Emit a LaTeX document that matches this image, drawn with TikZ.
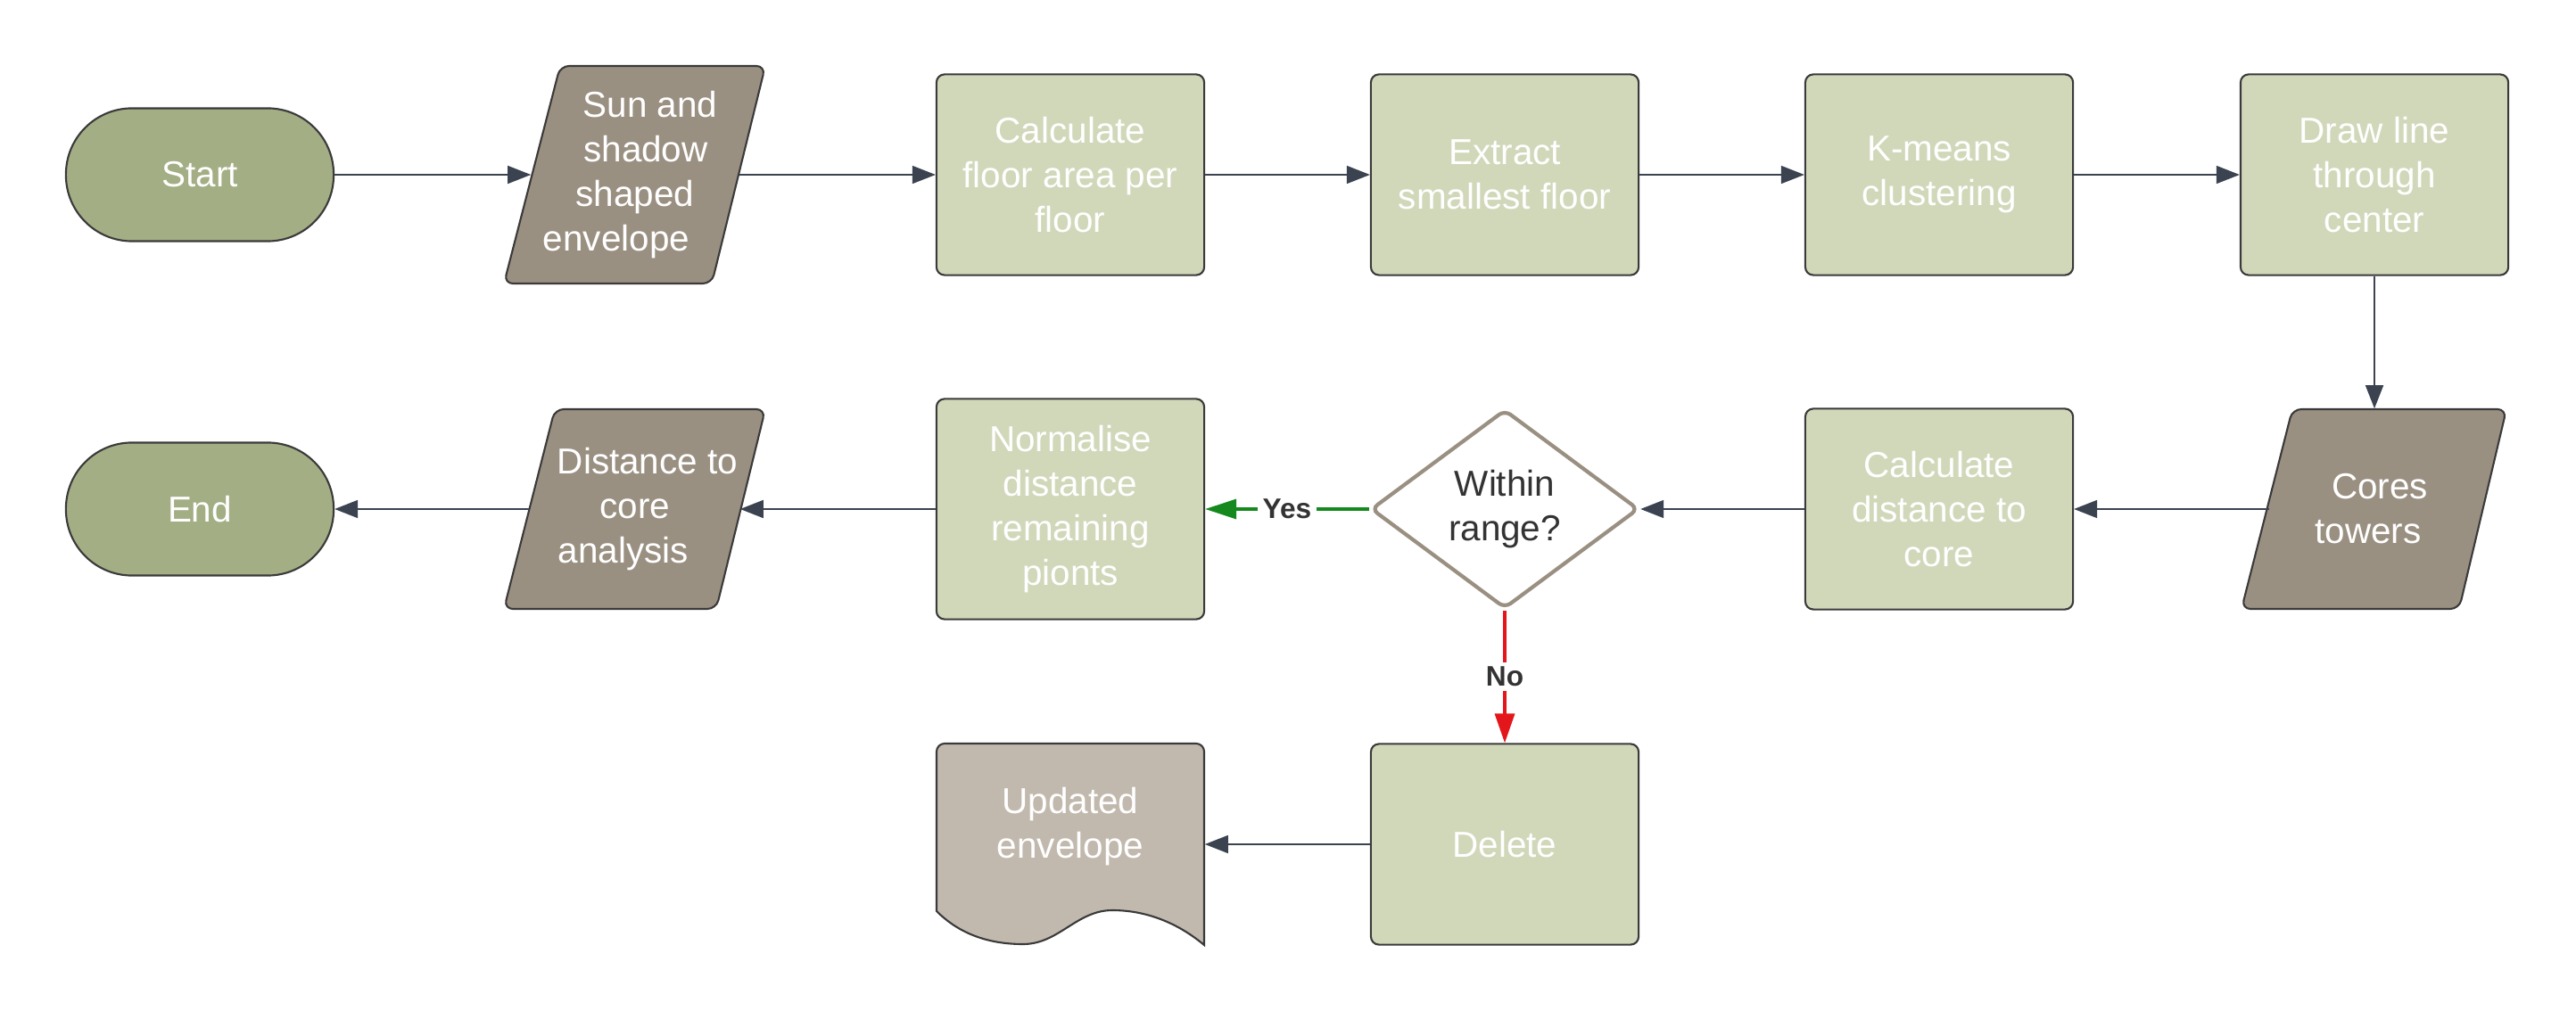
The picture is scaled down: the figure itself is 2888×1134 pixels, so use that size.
\documentclass[tikz,border=0pt]{standalone}
\usepackage{fontspec}
\setmainfont{Liberation Sans}
\usetikzlibrary{shapes, arrows.meta, positioning, calc}
\definecolor{termc}{HTML}{A3AE85}
\definecolor{procc}{HTML}{D1D8BA}
\definecolor{ioc}{HTML}{9A9082}
\definecolor{docc}{HTML}{C2B9AE}
\definecolor{edgec}{HTML}{3A3A3A}
\definecolor{arrc}{HTML}{3B4350}
\definecolor{txtc}{HTML}{333333}
\definecolor{yesc}{HTML}{16891E}
\definecolor{noc}{HTML}{E3161B}

\begin{document}
\begin{tikzpicture}[x=0.01cm, y=0.01cm,
  every node/.style={font=\fontsize{11.5}{14.2}\selectfont, text=white, align=center},
  term/.style={draw=edgec, line width=0.6pt, fill=termc, rectangle, rounded corners=0.74cm, minimum width=3cm, minimum height=1.49cm},
  proc/.style={draw=edgec, line width=0.6pt, fill=procc, rectangle, rounded corners=0.09cm, minimum width=3cm, minimum height=2.25cm},
  iosh/.style={draw=edgec, line width=0.6pt, fill=ioc, rounded corners=0.1cm},
  iotext/.style={rectangle, inner sep=0pt, minimum width=2.34cm, minimum height=2.24cm},
  dec/.style={draw=ioc, line width=1.2pt, fill=white, diamond, rounded corners=0.08cm, minimum width=3cm, minimum height=2.23cm, text=txtc, inner sep=0pt},
  flow/.style={draw=arrc, line width=0.45pt, -{Triangle[length=0.26cm, width=0.2cm]}},
  lbl/.style={font=\fontsize{9}{11}\selectfont\bfseries, text=txtc, fill=white, inner sep=1.5pt}]
  \useasboundingbox (0,0) rectangle (2888,-1134);

  % top row
  \node[term] (st) at (224,-196) {Start};
  \coordinate (sunc) at (712,-196);
  \draw[iosh] ($(sunc)+(-147,-122)$) -- ($(sunc)+(-84,122)$) -- ($(sunc)+(146,122)$) -- ($(sunc)+(86,-122)$) -- cycle;
  \node[iotext, minimum width=2.32cm, minimum height=2.45cm] (sun) at (sunc) {\hspace*{0.34cm}Sun and\\\hspace*{0.24cm}shadow\\shaped\hspace*{0.14cm}\\envelope\hspace*{0.42cm}};
  \node[proc] (area) at (1200,-196) {Calculate\\floor area per\\floor};
  \node[proc] (small) at (1687,-196) {Extract\\smallest floor};
  \node[proc] (km) at (2174,-196) {K-means\\clustering};
  \node[proc] (line) at (2662,-196) {Draw line\\through\\center};

  % middle row
  \coordinate (coresc) at (2662,-571);
  \draw[iosh] ($(coresc)+(-149,-112)$) -- ($(coresc)+(-92,112)$) -- ($(coresc)+(148,112)$) -- ($(coresc)+(95,-112)$) -- cycle;
  \node[iotext] (cores) at (coresc) {\hspace*{0.12cm}Cores\\towers\hspace*{0.14cm}};
  \node[proc] (dist) at (2174,-571) {Calculate\\distance to\\core};
  \node[dec] (rng) at (1687,-571) {Within\\range?};
  \node[proc, minimum height=2.47cm] (norm) at (1200,-571) {Normalise\\distance\\remaining\\pionts};
  \coordinate (anac) at (712,-571);
  \draw[iosh] ($(anac)+(-147,-112)$) -- ($(anac)+(-90,112)$) -- ($(anac)+(146,112)$) -- ($(anac)+(91,-112)$) -- cycle;
  \node[iotext] (ana) at (anac) {\hspace*{0.28cm}Distance to\\core\\analysis\hspace*{0.26cm}};
  \node[term] (end) at (224,-571) {End};

  % bottom row
  \node[proc] (del) at (1687,-947) {Delete};
  \coordinate (updc) at (1200,-927);
  \draw[draw=edgec, line width=0.6pt, fill=docc]
    ($(updc)+(150,-133)$) [rounded corners=0.09cm] -- ($(updc)+(150,93)$) -- ($(updc)+(-150,93)$) [sharp corners] -- ($(updc)+(-150,-95)$)
    .. controls ($(updc)+(-130,-115)$) and ($(updc)+(-100,-132)$) .. ($(updc)+(-53,-132)$)
    .. controls ($(updc)+(-13,-132)$) and ($(updc)+(7,-94)$) .. ($(updc)+(47,-94)$)
    .. controls ($(updc)+(90,-94)$) and ($(updc)+(125,-112)$) .. cycle;
  \node[inner sep=0pt, minimum width=3cm, minimum height=1.86cm] (upd) at (updc) {Updated\\envelope};

  % connectors
  \draw[flow] (st) -- (sun);
  \draw[flow] (sun) -- (area);
  \draw[flow] (area) -- (small);
  \draw[flow] (small) -- (km);
  \draw[flow] (km) -- (line);
  \draw[flow] (line) -- (cores);
  \draw[flow] (cores) -- (dist);
  \draw[flow] (dist) -- (rng);
  \draw[draw=yesc, line width=1pt, -{Triangle[length=0.35cm, width=0.22cm]}] (rng) -- node[lbl] {Yes} (norm);
  \draw[draw=noc, line width=1pt, -{Triangle[length=0.33cm, width=0.22cm]}] (rng) -- node[lbl] {No} (del);
  \draw[flow] (norm) -- (ana);
  \draw[flow] (ana) -- (end);
  \draw[flow] (del.west) -- (del.west -| upd.east);
\end{tikzpicture}
\end{document}
